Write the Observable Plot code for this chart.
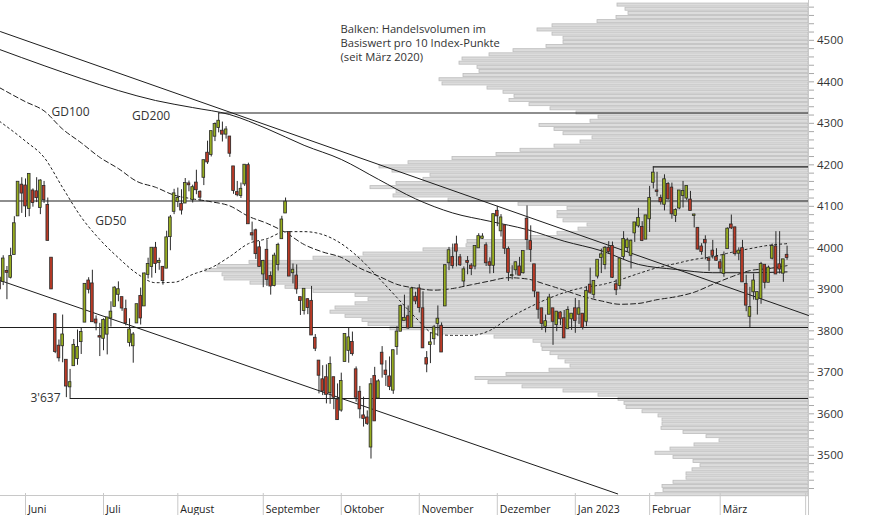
<!DOCTYPE html>
<html><head><meta charset="utf-8">
<script src="https://cdn.jsdelivr.net/npm/d3@7"></script>
<script src="https://cdn.jsdelivr.net/npm/@observablehq/plot@0.6"></script>
<style>
body{margin:0;background:#fff;font-family:"Open Sans",sans-serif}
#wrap{position:relative;width:874px;height:515px;overflow:hidden}
#wrap svg{position:absolute;left:0;top:0}
</style></head><body><div id="wrap"></div>
<script>
// Trading-day index: 0 = 1 June 2022; first candle (-7) = 20 May 2022, last (205) = 27 March 2023
const firstIndex = -7;
const opens = [
3927,3919,3943,3929,3984,4077,4151,
4149,4095,4137,4135,4097,4148,4102,3975,3839,3763,3764,3729,3665,3716,3733,3774,3821,3920,3913,3826,3786,
3782,3792,3831,3859,3888,3880,3851,3772,3764,3819,3883,3860,3936,3955,3999,3965,3953,3951,4027,4088,
4112,4105,4108,4154,4116,4156,4134,4170,4228,4225,4269,4290,4281,4274,4267,4195,4133,4126,4154,4198,4034,4041,4000,
3937,3994,3931,3909,3960,4022,4084,4037,3940,3932,3880,3849,3875,3871,3782,3727,3682,3687,3651,3687,3633,
3609,3726,3753,3772,3706,3652,3595,3590,3520,3690,3638,3746,3703,3689,3657,3762,3799,3825,3834,3808,3881,
3901,3853,3733,3767,3781,3818,3811,3860,3964,3977,4007,3976,3920,3967,3956,3956,4000,4023,4005,3964,3958,
4088,4041,4053,3996,3933,3947,3954,3940,4069,4015,3959,3891,3853,3811,3840,3853,3815,3843,3829,3805,3829,
3853,3840,3840,3823,3910,3888,3932,3977,3960,3999,4003,3911,3909,3979,4001,3982,4036,4053,4049,4021,
4070,4158,4137,4119,4105,4153,4144,4078,4096,4126,4120,4115,4078,4047,4002,4018,3973,3992,3977,
3964,3938,3998,4055,4048,3987,3998,3912,3835,3894,3876,3878,3958,3917,3975,4002,3959,3939,3982];
const highs = [
3943,3981,3955,3999,4075,4158,4169,
4166,4177,4142,4169,4164,4160,4120,3975,3839,3778,3838,3729,3707,3779,3802,3808,3913,3928,3946,3836,3818,
3829,3832,3870,3906,3918,3880,3874,3829,3796,3863,3903,3939,3975,3999,4013,3975,3954,4040,4078,4141,
4144,4140,4167,4161,4151,4187,4137,4211,4257,4280,4301,4325,4303,4292,4267,4196,4160,4156,4200,4204,4062,4045,4015,
3970,4019,3942,3987,4011,4076,4120,4038,3961,3959,3880,3900,3877,3907,3791,3727,3716,3718,3737,3688,3672,
3698,3792,3806,3797,3713,3666,3640,3607,3685,3712,3682,3762,3728,3737,3754,3810,3862,3886,3860,3905,3893,
3911,3894,3750,3796,3813,3860,3819,3959,4001,4009,4028,3984,3954,3979,3962,4004,4034,4034,4012,3976,4080,
4100,4080,4053,4002,3957,3966,3977,3991,4101,4053,3959,3891,3854,3838,3888,3853,3846,3846,3849,3858,3840,
3878,3873,3840,3906,3951,3919,3970,3997,4003,4015,4014,3923,3973,4039,4023,4019,4061,4095,4063,4077,
4148,4195,4182,4127,4176,4157,4156,4094,4138,4160,4149,4136,4081,4049,4010,4029,3979,4018,3998,
3972,3990,4048,4079,4050,4000,4018,3934,3905,3937,3894,3965,3958,3956,4009,4039,4039,3972,4004];
const lows = [
3810,3909,3875,3925,3984,4077,4083,
4073,4075,4098,4109,4080,4107,4017,3900,3745,3725,3723,3639,3637,3716,3717,3743,3821,3889,3820,3800,3738,
3752,3742,3809,3859,3870,3847,3812,3761,3722,3818,3814,3860,3925,3927,3938,3946,3910,3951,3993,4080,
4097,4079,4107,4135,4108,4128,4112,4150,4201,4219,4256,4277,4255,4262,4218,4129,4123,4119,4148,4057,4017,3972,3954,
3904,3907,3886,3906,3944,4022,4084,3933,3913,3888,3837,3838,3839,3789,3750,3648,3644,3624,3623,3610,3584,
3604,3726,3722,3739,3628,3588,3568,3572,3491,3583,3638,3686,3666,3656,3647,3741,3799,3825,3803,3808,3863,
3843,3758,3699,3721,3765,3786,3748,3860,3945,3949,3954,3955,3906,3935,3933,3947,3999,4020,3955,3937,3938,
4051,4026,3984,3919,3923,3934,3933,3937,3994,3965,3880,3828,3801,3795,3840,3765,3798,3813,3783,3805,3801,
3794,3815,3802,3810,3888,3877,3925,3938,3947,3984,3926,3885,3899,3971,3989,3949,4013,4048,4015,4021,
4037,4142,4123,4103,4089,4115,4069,4061,4092,4096,4114,4090,4048,3995,3982,3971,3943,3973,3968,
3939,3929,3998,4044,3980,3969,3917,3846,3808,3874,3838,3864,3901,3917,3971,3937,3937,3917,3970];
const closes = [
3901,3973,3941,3979,4058,4158,4132,
4101,4177,4109,4121,4161,4116,4018,3901,3750,3735,3790,3667,3675,3765,3760,3796,3912,3900,3822,3819,3785,
3825,3831,3845,3903,3899,3855,3819,3802,3790,3863,3831,3937,3960,3999,3962,3967,3921,4024,4072,4130,
4119,4091,4155,4152,4145,4140,4122,4210,4207,4280,4297,4305,4274,4284,4228,4138,4128,4141,4199,4058,4031,3986,3955,
3967,3924,3908,3980,4006,4067,4110,3932,3946,3901,3873,3900,3856,3790,3758,3693,3655,3647,3719,3640,3586,
3678,3791,3783,3745,3640,3612,3589,3577,3670,3583,3677,3720,3695,3666,3752,3797,3859,3830,3807,3901,3872,
3856,3759,3720,3771,3807,3828,3749,3957,3993,3957,3992,3959,3947,3965,3950,4003,4027,4026,3964,3958,4080,
4077,4072,3999,3941,3933,3964,3934,3991,4020,3996,3896,3852,3818,3822,3879,3823,3845,3829,3783,3849,3840,
3825,3853,3808,3895,3893,3919,3970,3983,3999,3991,3929,3899,3973,4020,4017,4016,4060,4071,4018,4077,
4119,4180,4136,4111,4164,4118,4082,4090,4137,4136,4148,4090,4079,3997,3991,4012,3970,3982,3970,
3951,3981,4045,4048,3986,3992,3918,3862,3856,3920,3892,3960,3917,3951,4003,3937,3949,3971,3977];

// Moving averages (trading-day index -> level)
const maIdx = [-7,0,5,10,15,20,25,30,35,40,45,50,55,60,65,70,75,80,85,90,95,100,105,110,115,120,125,130,135,140,145,150,155,160,165,170,175,180,185,190,195,200,205];
const gd50 = [4305,4257,4218,4145,4074,4020,3976,3938,3916,3917,3936,3952,3979,4010,4022,4039,4039,4032,4010,3974,3928,3880,3832,3793,3789,3789,3801,3830,3854,3875,3892,3904,3911,3923,3938,3952,3962,3972,3979,3989,3998,4006,4010];
const gd100 = [4386,4352,4330,4286,4253,4218,4191,4160,4146,4127,4118,4111,4101,4076,4059,4037,4008,3990,3977,3951,3932,3912,3903,3898,3902,3911,3920,3928,3925,3912,3898,3883,3872,3864,3866,3875,3882,3893,3912,3930,3945,3950,3957];
const gd200Idx = [-7,5,15,25,35,45,55,65,75,85,95,105,115,125,135,145,155,165,175,185,195,205];
const gd200 = [4478,4439,4408,4379,4355,4338,4321,4287,4247,4213,4165,4118,4084,4064,4044,4016,3993,3960,3948,3940,3940,3942];

// Volume profile: trading volume per 10 index points (relative units)
const profilePrices = [
4585,4575,4565,4555,4545,4535,4525,4515,4505,4495,
4485,4475,4465,4455,4445,4435,4425,4415,4405,4395,
4385,4375,4365,4355,4345,4335,4325,4315,4305,4295,
4285,4275,4265,4255,4245,4235,4225,4215,4205,4195,
4185,4175,4165,4155,4145,4135,4125,4115,4105,4095,
4085,4075,4065,4055,4045,4035,4025,4015,4005,3995,
3985,3975,3965,3955,3945,3935,3925,3915,3905,3895,
3885,3875,3865,3855,3845,3835,3825,3815,3805,3795,
3785,3775,3765,3755,3745,3735,3725,3715,3705,3695,
3685,3675,3665,3655,3645,3635,3625,3615,3605,3595,
3585,3575,3565,3555,3545,3535,3525,3515,3505,3495,
3485,3475,3465,3455,3445,3435,3425,3415,3405];
const profileVolumes = [
191,183,180,192,211,256,271,256,245,245,
262,295,319,346,349,331,329,345,369,366,
321,305,294,299,279,258,232,210,218,269,
254,245,216,228,254,288,312,356,400,429,
416,378,385,412,438,412,415,360,290,241,
251,251,245,221,230,251,278,341,342,385,
445,495,559,591,603,586,584,558,523,495,
453,440,453,473,478,463,446,440,418,366,
314,275,267,266,258,250,243,238,259,302,
333,320,286,245,210,190,184,182,166,150,
146,146,147,125,102,89,114,138,153,135,
115,108,116,122,122,135,146,145,153];

// Horizontal levels (level, trading-day index where the line starts)
const levelValues = [4325, 4195, 4113, 3808, 3637];
const levelStart  = [52, 169, -6.73, -6.73, 12];
// Trend channel end points (trading-day index, level)
const trendIds = ["oben","oben","unten","unten"];
const trendIdx = [-6.73, 210.77, -6.73, 159.4];
const trendVal = [4521, 3837, 3921, 3407];

const monthIdx = [0,21,41,64,85,106,127,148,168,187,210];
const monthLabels = ["Juni","Juli","August","September","Oktober","November","Dezember","Jan 2023","Februar","März",""];
const note = "Balken: Handelsvolumen im\nBasiswert pro 10 Index-Punkte\n(seit März 2020)";

// ---- build tables ----
const candles = opens.map((o,k)=>({i:k+firstIndex,o,h:highs[k],l:lows[k],c:closes[k]}));
const profile = profilePrices.map((p,k)=>({price:p, vol:profileVolumes[k]}));
const ma = (idx, vals, name) => idx.map((i,k)=>({i, v:vals[k], name}));
const levels = levelValues.map((v,k)=>({v, from:levelStart[k]}));
const trends = trendIdx.map((i,k)=>({i, v:trendVal[k], id:trendIds[k]}));

const W = 874, H = 515, ML = 0, MR = 66, MT = 0, MB = 22;
const xDom = [-6.73, 210.77];
const yDom = [3408, 4596];
const ink = "#1e1e1e";
const up = "#97ad1f", down = "#bb3a26";

const volPlot = Plot.plot({
  width: W, height: H, marginLeft: ML, marginRight: MR, marginTop: MT, marginBottom: MB,
  x: {domain: [0, 808], range: [808, 0], axis: null},
  y: {domain: yDom, axis: null},
  style: {background: "#fff"},
  marks: [
    Plot.rectX(profile, {x1: 0, x2: "vol", y1: d => d.price - 5, y2: d => d.price + 5,
      insetTop: 0.55, insetBottom: 0.55, fill: "#dcdcdc", stroke: "#bcbcbc", strokeWidth: 0.8})
  ]
});

const mainPlot = Plot.plot({
  width: W, height: H, marginLeft: ML, marginRight: MR, marginTop: MT, marginBottom: MB,
  x: {domain: xDom, axis: null},
  y: {domain: yDom, axis: null},
  style: {background: "transparent", fontFamily: "'Open Sans', sans-serif", color: "#333", overflow: "visible"},
  marks: [
    Plot.ruleY([yDom[0]], {dy: 2, stroke: "#c8c8c8"}),
    Plot.axisX({ticks: monthIdx, tickSize: 22, tickFormat: () => "", stroke: "#c8c8c8", anchor: "bottom"}),
    Plot.text(monthIdx, {x: d => d, text: (d,k) => monthLabels[k], frameAnchor: "bottom", dy: 19, dx: 2.5,
      textAnchor: "start", lineAnchor: "bottom", fontSize: 10.5, fill: "#222"}),
    Plot.ruleX([xDom[1]], {stroke: "#c8c8c8", insetBottom: -22}),
    Plot.axisY({anchor: "right", ticks: d3.range(3420, 4581, 20), tickSize: 5, tickPadding: 3.5,
      tickFormat: d => (d % 100 === 0 ? String(d) : ""), stroke: "#a8a8a8", fill: "#333", fontSize: 11.5}),
    Plot.text([note], {frameAnchor: "top-left", dx: 340, dy: 22, lineAnchor: "top", lineHeight: 1.28,
      fontSize: 11.2, fill: "#333", textAnchor: "start"}),
    Plot.ruleY(levels, {y: "v", x1: "from", x2: xDom[1], stroke: ink, strokeWidth: 1.1}),
    Plot.line(trends, {x: "i", y: "v", z: "id", stroke: ink, strokeWidth: 1}),
    Plot.line(ma(gd200Idx, gd200, "GD200"), {x: "i", y: "v", curve: "monotone-x", stroke: ink, strokeWidth: 1}),
    Plot.line(ma(maIdx, gd100, "GD100"), {x: "i", y: "v", curve: "monotone-x", stroke: ink, strokeWidth: 1, strokeDasharray: "5,3"}),
    Plot.line(ma(maIdx, gd50, "GD50"), {x: "i", y: "v", curve: "monotone-x", stroke: ink, strokeWidth: 1, strokeDasharray: "2,3"}),
    Plot.ruleX(candles, {x: "i", y1: "l", y2: "h", stroke: "#2a2a2a", strokeWidth: 1}),
    Plot.rect(candles, {x1: d => d.i - 0.36, x2: d => d.i + 0.36, y1: "o", y2: "c",
      insetTop: -0.5, insetBottom: -0.5,
      fill: d => (d.c >= d.o ? up : down), stroke: "#2a2a2a", strokeWidth: 0.8}),
    Plot.text(["GD100"], {x: 7.0, y: 4327, textAnchor: "start", fontSize: 12, fill: "#333"}),
    Plot.text(["GD200"], {x: 28.7, y: 4317, textAnchor: "start", fontSize: 12, fill: "#333"}),
    Plot.text(["GD50"], {x: 18.76, y: 4064, textAnchor: "start", fontSize: 12, fill: "#333"}),
    Plot.text(["3'637"], {x: 9.42, y: 3637, textAnchor: "end", fontSize: 12, fill: "#333"})
  ]
});

const wrap = document.getElementById("wrap");
wrap.appendChild(volPlot);
wrap.appendChild(mainPlot);
</script></body></html>
